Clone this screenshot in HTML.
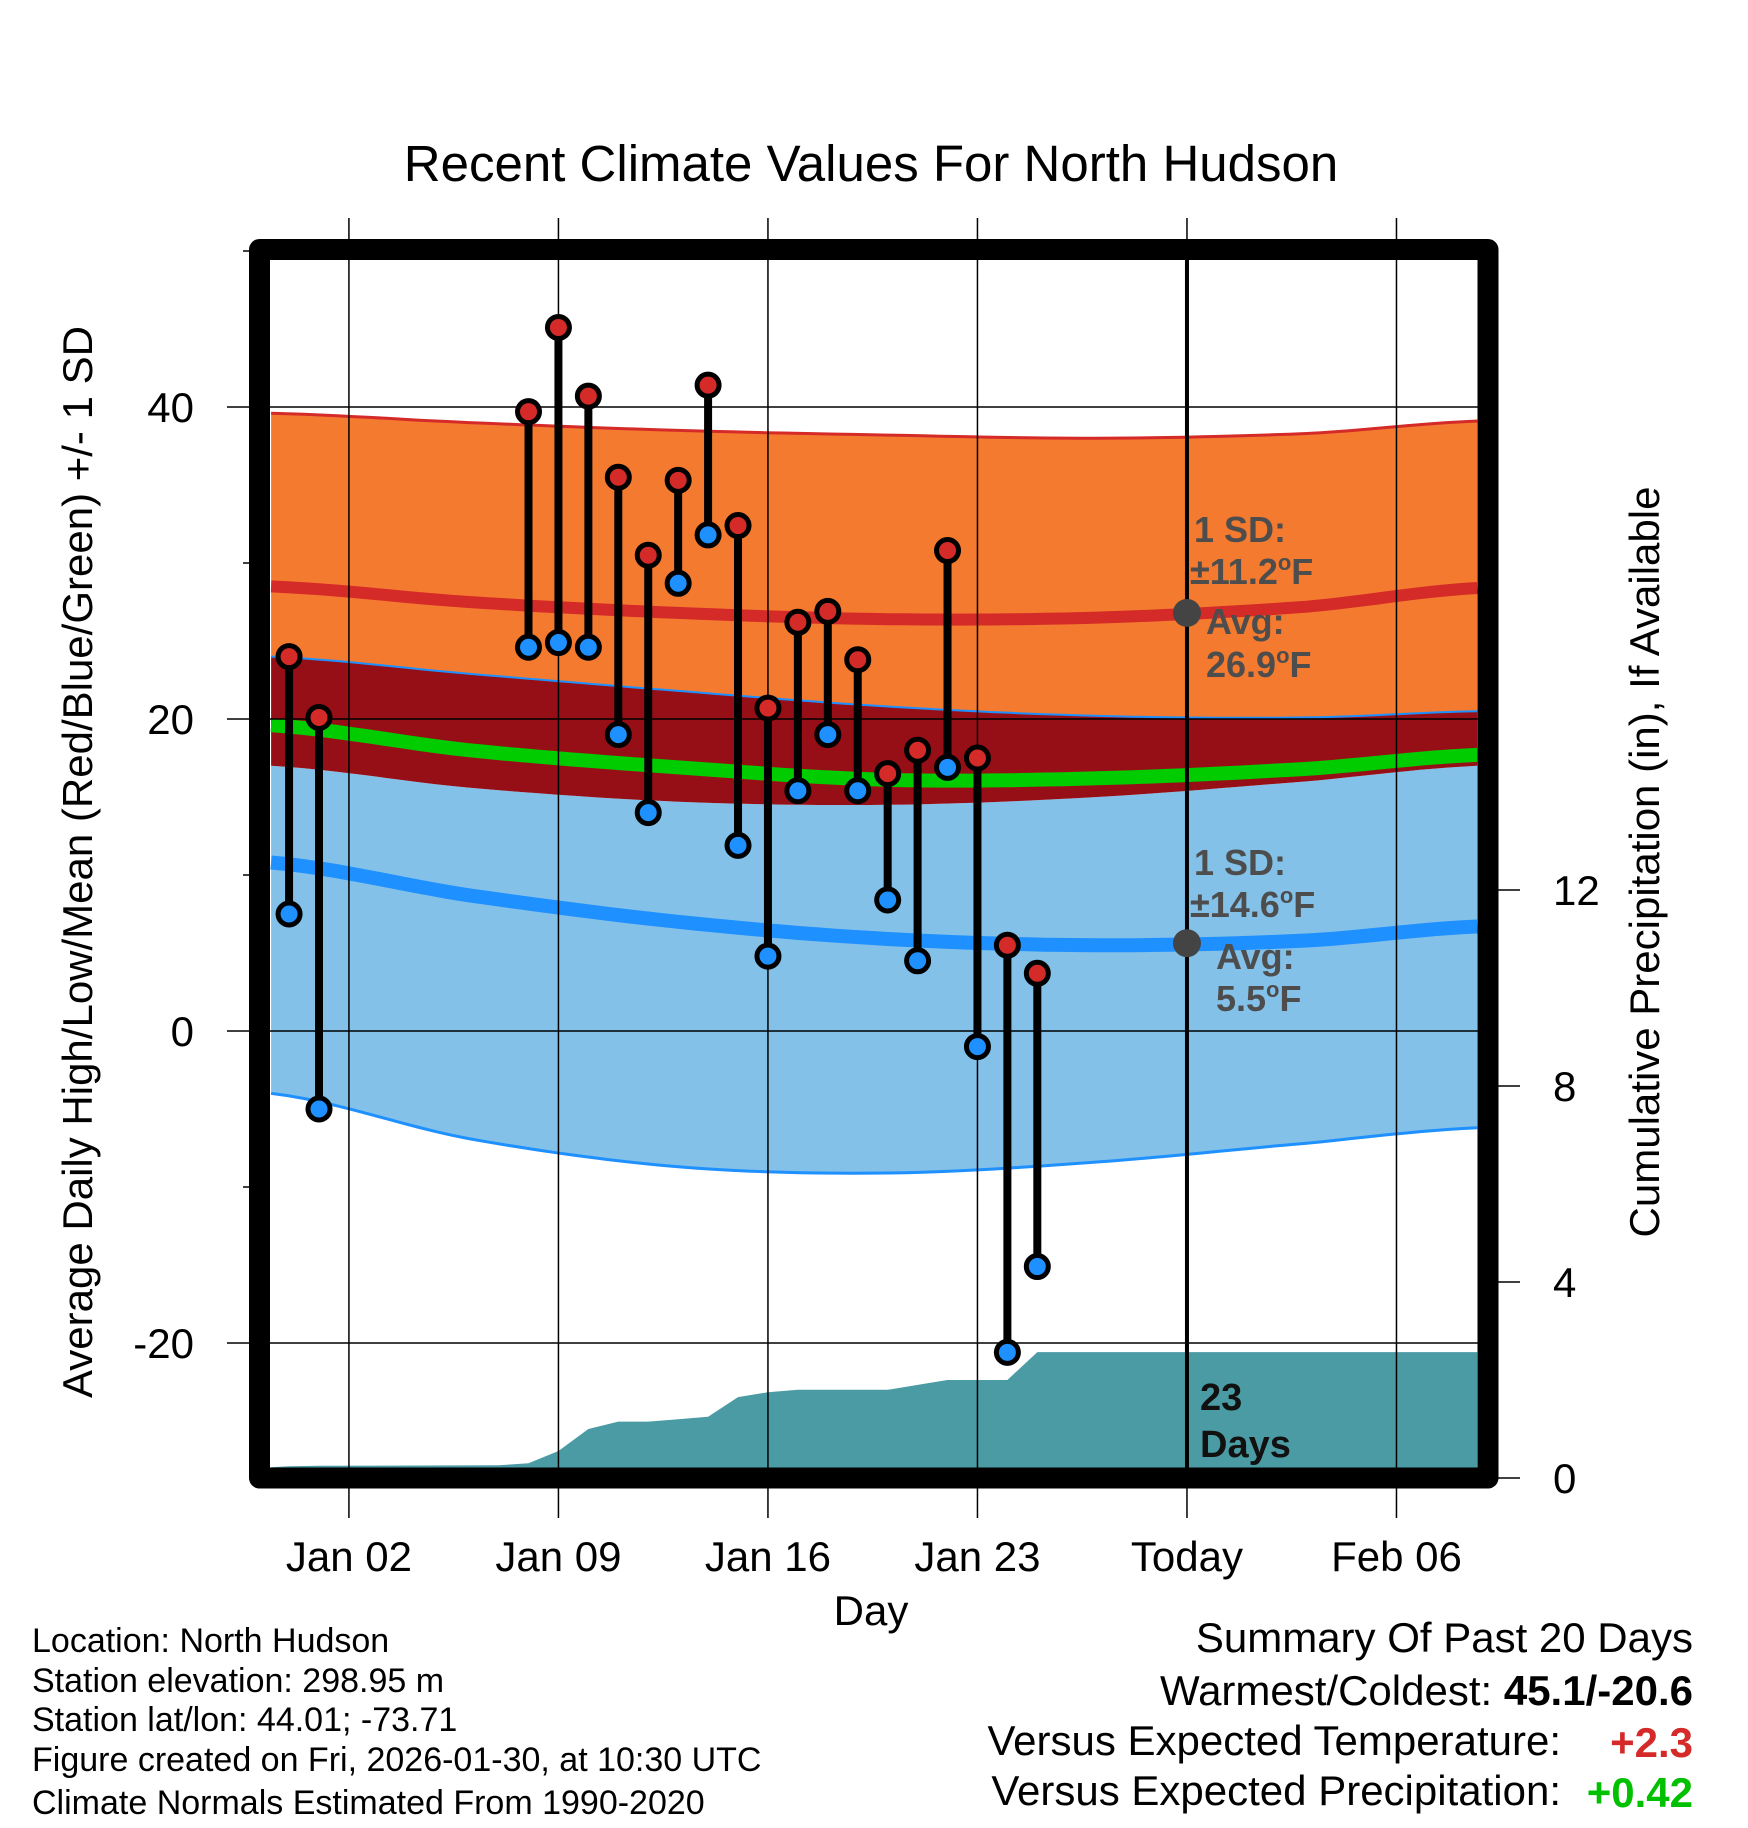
<!DOCTYPE html>
<html><head><meta charset="utf-8"><style>
body{margin:0;background:#fff;width:1748px;height:1828px;overflow:hidden}
svg{display:block;font-family:"Liberation Sans",Arial,sans-serif}
</style></head><body>
<svg id="chart" width="1748" height="1828" viewBox="0 0 1748 1828" xmlns="http://www.w3.org/2000/svg">
<text x="871" y="181" font-size="51" text-anchor="middle">Recent Climate Values For North Hudson</text>
<g id="plot"></g>
<text transform="translate(92,862) rotate(-90)" font-size="42" text-anchor="middle">Average Daily High/Low/Mean (Red/Blue/Green) +/- 1 SD</text>
<text transform="translate(1659,862) rotate(-90)" font-size="42" text-anchor="middle">Cumulative Precipitation (in), If Available</text>
<text x="871" y="1625" font-size="42" text-anchor="middle">Day</text>
<g font-size="34">
<text x="32" y="1652">Location: North Hudson</text>
<text x="32" y="1692">Station elevation: 298.95 m</text>
<text x="32" y="1731">Station lat/lon: 44.01; -73.71</text>
<text x="32" y="1771">Figure created on Fri, 2026-01-30, at 10:30 UTC</text>
<text x="32" y="1814">Climate Normals Estimated From 1990-2020</text>
</g>
<g font-size="42">
<text x="1693" y="1652" text-anchor="end">Summary Of Past 20 Days</text>
<text x="1693" y="1705" text-anchor="end">Warmest/Coldest: <tspan font-weight="bold">45.1/-20.6</tspan></text>
<text x="1561" y="1755" text-anchor="end">Versus Expected Temperature:</text>
<text x="1693" y="1757" text-anchor="end" font-weight="bold" fill="#d42a28">+2.3</text>
<text x="1561" y="1805" text-anchor="end">Versus Expected Precipitation:</text>
<text x="1693" y="1807" text-anchor="end" font-weight="bold" fill="#00c000">+0.42</text>
</g>
</svg>
<script>
// ---- data ----
const obsDays = [-1,0,7,8,9,10,11,12,13,14,15,16,17,18,19,20,21,22,23,24];
const highs = [24.0,20.1,39.7,45.1,40.7,35.5,30.5,35.3,41.4,32.4,20.7,26.2,26.9,23.8,16.5,18.0,30.8,17.5,5.5,3.7];
const lows  = [7.5,-5.0,24.6,24.9,24.6,19.0,14.0,28.7,31.8,11.9,4.8,15.4,19.0,15.4,8.4,4.5,16.9,-1.0,-20.6,-15.1];
const normDays = [-1.6,5,12,19,26,33,38.7];
const hiTop = [39.6,39.0,38.5,38.2,38.0,38.3,39.1];
const hiAvg = [28.5,27.5,26.8,26.4,26.5,27.2,28.4];
const hiBot = [24.0,22.9,21.8,20.8,20.2,20.1,20.5];
const meanT = [19.6,18.0,16.9,16.1,16.2,16.8,17.7];
const loTop = [17.0,15.6,14.7,14.5,15.0,16.0,17.0];
const loAvg = [10.8,8.7,7.0,5.9,5.5,5.8,6.7];
const loBot = [-4.0,-6.9,-8.7,-9.1,-8.4,-7.2,-6.2];
const precDays = [-1.6,-1,0,6,7,8,9,10,11,12,13,14,15,16,19,20,21,22,23,24,38.7];
const precip = [0.22,0.24,0.25,0.26,0.3,0.55,1.0,1.15,1.15,1.2,1.25,1.65,1.75,1.8,1.8,1.9,2.0,2.0,2.0,2.57,2.57];
const yTicks = [40,20,0,-20];
const yMinor = [50,30,10,-10];
const pTicks = [0,4,8,12];
const xTickDays = [1,8,15,22,29,36];
const xTickLabels = ["Jan 02","Jan 09","Jan 16","Jan 23","Today","Feb 06"];
const todayDay = 29;
// ---- scales ----
const x = d => 319 + 29.93*d;
const y = v => 1031 - 15.6*v;
const yp = p => 1478 - 49*p;
const L=270,R=1478,T=260,B=1468;
const NS="http://www.w3.org/2000/svg";
const g=document.getElementById('plot');
function mk(tag,attrs,parent){const e=document.createElementNS(NS,tag);for(const k in attrs)e.setAttribute(k,attrs[k]);(parent||g).appendChild(e);return e;}
const clip=mk('clipPath',{id:'pc'});mk('rect',{x:L,y:T,width:R-L,height:B-T},clip);
const pg=mk('g',{'clip-path':'url(#pc)'});
function samp(arr){const pts=[];const n=normDays.length;
 for(let i=0;i<n-1;i++){const p0=arr[Math.max(0,i-1)],p1=arr[i],p2=arr[i+1],p3=arr[Math.min(n-1,i+2)];
  const d0=normDays[i],d1=normDays[i+1];
  for(let s=0;s<12;s++){const t=s/12;const t2=t*t,t3=t2*t;
   const v=0.5*((2*p1)+(-p0+p2)*t+(2*p0-5*p1+4*p2-p3)*t2+(-p0+3*p1-3*p2+p3)*t3);
   pts.push([x(d0+(d1-d0)*t),y(v)]);}}
 pts.push([x(normDays[n-1]),y(arr[n-1])]);return pts;}
function line(arr){return samp(arr).map(p=>p[0].toFixed(1)+','+p[1].toFixed(1)).join(' ');}
function band(a,b){return line(a)+' '+samp(b).reverse().map(p=>p[0].toFixed(1)+','+p[1].toFixed(1)).join(' ');}
let e;
e=mk('polygon',{points:band(hiTop,hiBot),fill:'#f47a2f'},pg);

e=mk('polygon',{points:band(loTop,loBot),fill:'#83c1e8'},pg);

e=mk('polygon',{points:band(hiBot,loTop),fill:'#970f16'},pg);

mk('polyline',{points:line(hiTop),fill:'none',stroke:'#d42a28',"stroke-width":3},pg);
mk('polyline',{points:line(hiBot),fill:'none',stroke:'#1e90ff',"stroke-width":2},pg);
mk('polyline',{points:line(loBot),fill:'none',stroke:'#1e90ff',"stroke-width":3},pg);
e=mk('polyline',{points:line(meanT),fill:'none',stroke:'#00cc00',"stroke-width":14},pg);

e=mk('polyline',{points:line(hiAvg),fill:'none',stroke:'#d42a28',"stroke-width":12},pg);

e=mk('polyline',{points:line(loAvg),fill:'none',stroke:'#1e90ff',"stroke-width":14},pg);

yTicks.forEach(v=>{e=mk('line',{x1:227,x2:R,y1:y(v),y2:y(v),stroke:'#000','stroke-width':1.5});

const t=mk('text',{x:194,y:y(v)+15,'font-size':42,'text-anchor':'end'});t.textContent=v;
});
yMinor.forEach(v=>{mk('line',{x1:243,x2:260,y1:y(v),y2:y(v),stroke:'#000','stroke-width':1.5});});
pTicks.forEach(p=>{mk('line',{x1:R,x2:1520,y1:yp(p),y2:yp(p),stroke:'#000','stroke-width':1.5});
const t=mk('text',{x:1553,y:yp(p)+15,'font-size':42});t.textContent=p;
});
xTickDays.forEach((d,i)=>{mk('line',{x1:x(d),x2:x(d),y1:218,y2:1518,stroke:'#000','stroke-width':1.5});
const t=mk('text',{x:x(d),y:1571,'font-size':42,'text-anchor':'middle'});t.textContent=xTickLabels[i];
});
const pp=x(precDays[0])+','+yp(0)+' '+precDays.map((d,i)=>x(d)+','+yp(precip[i])).join(' ')+' '+x(precDays[precDays.length-1])+','+yp(0);
e=mk('polygon',{points:pp,fill:'#4a9ba4'},pg);

e=mk('line',{x1:x(todayDay),x2:x(todayDay),y1:T,y2:B,stroke:'#000','stroke-width':4});

function interp(arr,d){for(let i=0;i<normDays.length-1;i++){if(d>=normDays[i]&&d<=normDays[i+1]){const f=(d-normDays[i])/(normDays[i+1]-normDays[i]);return arr[i]+f*(arr[i+1]-arr[i]);}}return arr[0];}
[[hiAvg,'today-avg-high-dot'],[loAvg,'today-avg-low-dot']].forEach(([a,n])=>{e=mk('circle',{cx:x(todayDay),cy:y(interp(a,todayDay)),r:14,fill:'#444'});
});
function lbl(html,xx,yy,n){const t=mk('text',{x:xx,y:yy,'font-size':36,'font-weight':'bold',fill:'#4d4d4d'});t.innerHTML=html;
}
const deg='<tspan font-size="22" dy="-14">o</tspan><tspan dy="14">F</tspan>';
lbl('1 SD:',1194,542,'high-sd-label');lbl('±11.2'+deg,1190,584,'high-sd-value');
lbl('Avg:',1206,634,'high-avg-label');lbl('26.9'+deg,1206,677,'high-avg-value');
lbl('1 SD:',1194,875,'low-sd-label');lbl('±14.6'+deg,1190,917,'low-sd-value');
lbl('Avg:',1216,969,'low-avg-label');lbl('5.5'+deg,1216,1011,'low-avg-value');
const dl=mk('text',{x:1200,y:1410,'font-size':38,'font-weight':'bold',fill:'#111'});dl.innerHTML='<tspan x="1200">23</tspan><tspan x="1200" dy="47">Days</tspan>';

obsDays.forEach((d,i)=>{e=mk('line',{x1:x(d),x2:x(d),y1:y(highs[i]),y2:y(lows[i]),stroke:'#000','stroke-width':8});
});
obsDays.forEach((d,i)=>{e=mk('circle',{cx:x(d),cy:y(lows[i]),r:11,fill:'#1e90ff',stroke:'#000','stroke-width':5});

e=mk('circle',{cx:x(d),cy:y(highs[i]),r:11,fill:'#d42a28',stroke:'#000','stroke-width':5});
});
e=mk('rect',{x:259.5,y:249.5,width:1228.5,height:1228.5,fill:'none',stroke:'#000','stroke-width':21,'stroke-linejoin':'round'});

</script>
</body></html>
